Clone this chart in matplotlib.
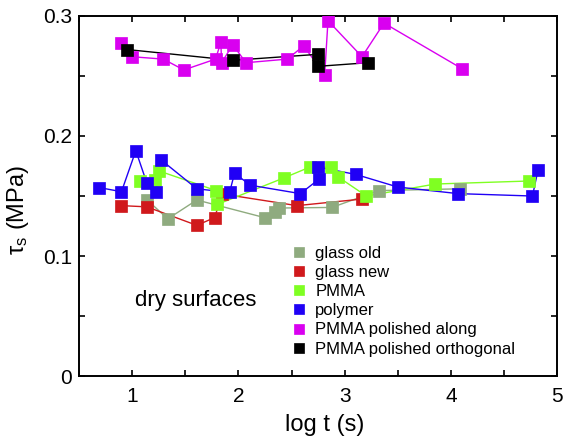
import numpy as np
import matplotlib.pyplot as plt
from matplotlib.ticker import MultipleLocator, FuncFormatter

plt.rcParams['font.family'] = ['Liberation Sans', 'DejaVu Sans']
plt.rcParams['mathtext.default'] = 'regular'

# glass old
x_glass_old = [1.138, 1.336, 1.609, 2.247, 2.341, 2.381, 2.88, 3.32, 4.083]
y_glass_old = [0.147, 0.131, 0.1467, 0.132, 0.137, 0.140, 0.1405, 0.1545, 0.156]

# glass new
x_glass_new = [0.90, 1.138, 1.609, 1.776, 1.848, 2.551, 3.166]
y_glass_new = [0.142, 0.141, 0.1256, 0.132, 0.1517, 0.142, 0.1475]

# PMMA
x_pmma = [1.07, 1.22, 1.249, 1.792, 1.801, 2.426, 2.67, 2.875, 2.937, 3.204, 3.854, 4.733]
y_pmma = [0.1625, 0.163, 0.171, 0.1545, 0.143, 0.165, 0.174, 0.174, 0.166, 0.150, 0.160, 0.1625]

# polymer
x_polymer = [0.693, 0.90, 1.035, 1.138, 1.223, 1.274, 1.609, 1.917, 1.964, 2.112, 2.583,
             2.758, 2.752, 3.104, 3.499, 4.067, 4.767, 4.82]
y_polymer = [0.157, 0.1536, 0.1878, 0.161, 0.153, 0.180, 0.156, 0.153, 0.169, 0.159, 0.152,
             0.164, 0.174, 0.168, 0.1575, 0.152, 0.150, 0.172]

# PMMA polished along
x_along = [0.897, 0.997, 1.293, 1.487, 1.785, 1.835, 1.842, 1.948, 2.071, 2.46, 2.614,
           2.812, 2.843, 3.163, 3.37, 4.105]
y_along = [0.277, 0.266, 0.264, 0.255, 0.264, 0.278, 0.261, 0.276, 0.261, 0.264, 0.275,
           0.251, 0.296, 0.266, 0.294, 0.256]

# PMMA polished orthogonal
x_orth = [0.95, 1.948, 2.75, 2.75, 3.22]
y_orth = [0.272, 0.263, 0.268, 0.258, 0.261]

series = [
    (x_glass_old, y_glass_old, '#8fab7f', 'glass old'),
    (x_glass_new, y_glass_new, '#d0191c', 'glass new'),
    (x_pmma, y_pmma, '#7fff22', 'PMMA'),
    (x_polymer, y_polymer, '#2000f5', 'polymer'),
    (x_along, y_along, '#d900f0', 'PMMA polished along'),
    (x_orth, y_orth, '#000000', 'PMMA polished orthogonal'),
]

fig = plt.figure(figsize=(5.64, 4.41), dpi=100)
ax = fig.add_axes([0.140, 0.147, 0.848, 0.817])

handles = []
for xs, ys, c, lab in series:
    ax.plot(xs, ys, '-', color=c, lw=1.0, zorder=2)
    h, = ax.plot(xs, ys, 's', color=c, ms=9, mec=c, mew=0.5, label=lab, zorder=3)
    handles.append(h)

ax.set_xlim(0.5, 5)
ax.set_ylim(0, 0.3)
ax.xaxis.set_major_locator(MultipleLocator(1))
ax.xaxis.set_minor_locator(MultipleLocator(0.5))
ax.yaxis.set_major_locator(MultipleLocator(0.1))
ax.yaxis.set_minor_locator(MultipleLocator(0.05))
ax.yaxis.set_major_formatter(FuncFormatter(lambda v, p: '%g' % round(v, 3)))
ax.xaxis.set_major_formatter(FuncFormatter(lambda v, p: '%g' % v))
ax.tick_params(which='both', direction='in', top=True, right=True, length=4, width=1.2)
ax.tick_params(axis='x', labelsize=15, pad=8)
ax.tick_params(axis='y', labelsize=15, pad=5)
for s in ax.spines.values():
    s.set_linewidth(1.4)

ax.set_xlabel('log t (s)', fontsize=17)
ax.set_ylabel(r'$\tau_s$ (MPa)', fontsize=17)
ax.xaxis.set_label_coords(0.513, -0.105)
ax.yaxis.set_label_coords(-0.128, 0.46)
ax.yaxis.label.set_va('center')

ax.text(0.117, 0.211, 'dry surfaces', transform=ax.transAxes, fontsize=16, va='center')

ax.legend(handles=handles, loc='lower left', bbox_to_anchor=(0.421, 0.022), frameon=False,
          fontsize=12, handlelength=0.8, handletextpad=0.6, labelspacing=0.25,
          borderaxespad=0.3, markerscale=0.75)

fig.savefig('out.png', dpi=100)
